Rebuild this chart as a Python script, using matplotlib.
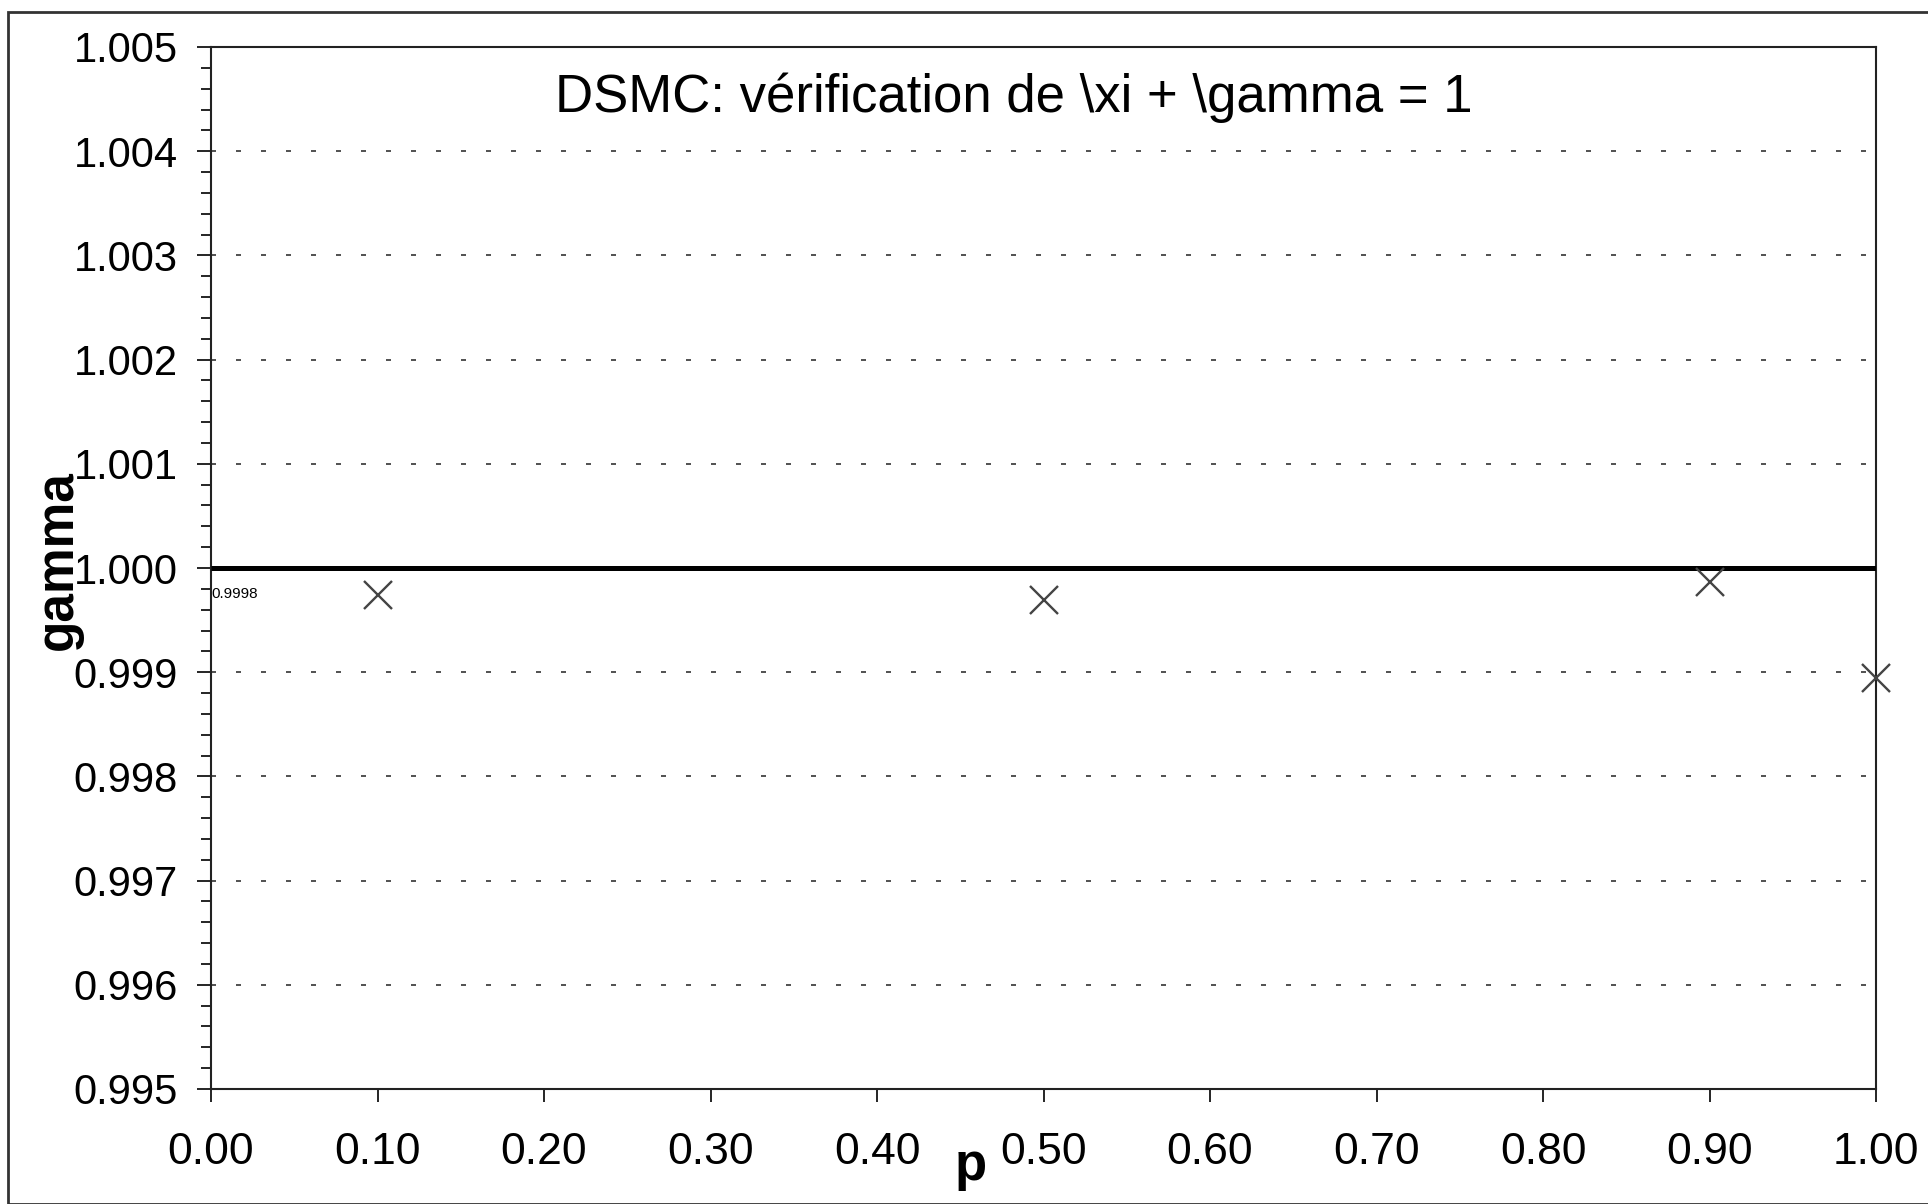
import numpy as np
import matplotlib
matplotlib.use("Agg")
import matplotlib.pyplot as plt
from matplotlib.ticker import MultipleLocator, FormatStrFormatter
from matplotlib.patches import Rectangle

plt.rcParams['font.family'] = ['Liberation Sans', 'DejaVu Sans']

# data
p_values = [0.10, 0.50, 0.90, 1.00]
gamma_values = [0.99974, 0.99969, 0.99987, 0.99894]
ref_p = [0.0, 1.0]
ref_gamma = [1.0, 1.0]
title_text = "DSMC: vérification de \\xi + \\gamma = 1"
small_label = "0.9998"

fig = plt.figure(figsize=(19.28, 12.04), dpi=100)
ax = fig.add_axes([211/1928, 1 - 1089/1204, (1876 - 211)/1928, (1089 - 47)/1204])

ax.plot(ref_p, ref_gamma, color="black", lw=3.6, zorder=3, solid_capstyle="butt")
ax.plot(p_values, gamma_values, ls="none", marker="x", ms=20, mew=1.7,
        color="#444444", zorder=4, clip_on=False)

ax.set_xlim(0, 1)
ax.set_ylim(0.995, 1.005)
ax.xaxis.set_major_locator(MultipleLocator(0.1))
ax.xaxis.set_major_formatter(FormatStrFormatter("%.2f"))
ax.yaxis.set_major_locator(MultipleLocator(0.001))
ax.yaxis.set_minor_locator(MultipleLocator(0.0002))
ax.yaxis.set_major_formatter(FormatStrFormatter("%.3f"))

ax.tick_params(axis="y", which="major", direction="out", length=10, width=1.2,
               labelsize=30, pad=14)
ax.tick_params(axis="y", which="minor", direction="out", length=7, width=1.2)
ax.tick_params(axis="x", which="major", direction="out", length=9, width=1.2,
               labelsize=32, pad=22)

ax.grid(axis="y", which="major", color="#333333", lw=1.2, ls=(0, (3, 12)))
for s in ax.spines.values():
    s.set_linewidth(1.5)
    s.set_color("#222222")

# axis labels placed where the scan has them
fig.text(971/1928, 1 - 1166/1204, "p", fontsize=38, fontweight="bold",
         ha="center", va="center")
fig.text(58/1928, 1 - 560/1204, "gamma", fontsize=37, fontweight="bold",
         rotation=90, ha="center", va="center")

fig.text(1014/1928, 1 - 98/1204, title_text, fontsize=38, ha="center", va="center")
ax.text(0.0, 0.99975, small_label, fontsize=11, ha="left", va="center")

# outer frame of the figure
fig.patches.append(Rectangle((8/1928, 0.0), 1.0, 1 - 12/1204, transform=fig.transFigure,
                             fill=False, lw=2, edgecolor="#333333"))

fig.savefig("out.png", dpi=100)
